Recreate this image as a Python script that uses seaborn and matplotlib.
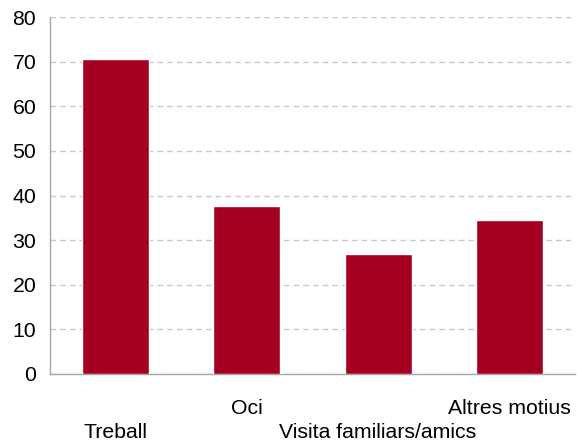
#!/usr/bin/env python3

import pandas as pd
import seaborn as sns
from matplotlib import pyplot as plt

categories = ["Treball", "Oci", "Visita familiars/amics", "Altres motius"]
values = [70.6, 37.6, 26.9, 34.5]
yticks = [0, 10, 20, 30, 40, 50, 60, 70, 80]


def main():
    data = pd.DataFrame({"motiu": categories, "valor": values})

    sns.set_style("white")
    plt.rcParams["font.family"] = ["Liberation Sans", "DejaVu Sans"]

    fig = plt.figure(figsize=(5.77, 4.41), dpi=100)
    ax = fig.add_axes([0.0867, 0.152, 0.9098, 0.809])
    sns.barplot(data, x="motiu", y="valor", color="#A50021", width=0.51,
                saturation=1, ax=ax, zorder=3)

    ax.set_ylim(0, 80)
    ax.set_xlim(-0.5, len(categories) - 0.5)
    ax.set_yticks(yticks)
    ax.set_yticklabels([str(t) for t in yticks], fontsize=15.3)
    ax.grid(True, axis="y", linestyle=(0, (4, 3)), color="#C8C8C8", linewidth=1, zorder=0)
    ax.set_axisbelow(True)

    # staggered category labels: even ones go one row lower
    ax.set_xticks(range(len(categories)))
    ax.set_xticklabels(categories, fontsize=15.3)
    ax.set_xticks([i - 0.5 for i in range(len(categories) + 1)], minor=True)
    ax.tick_params(axis="x", which="major", length=0, pad=18)
    for i, tick in enumerate(ax.xaxis.get_major_ticks()):
        tick.set_pad(35.5 if i % 2 == 0 else 18)
    ax.tick_params(axis="x", which="minor", length=8, color="#A6A6A6", width=1, direction="out")
    ax.tick_params(axis="y", length=7, color="#A6A6A6", width=1, direction="out", pad=3)
    ax.tick_params(axis="both", labelcolor="#000000")

    for side in ["top", "right"]:
        ax.spines[side].set_visible(False)
    for side in ["left", "bottom"]:
        ax.spines[side].set_color("#A6A6A6")
        ax.spines[side].set_linewidth(1)

    ax.set_xlabel("")
    ax.set_ylabel("")

    plt.savefig("out.png", dpi=100)
    plt.close()


if __name__ == '__main__':
    main()
